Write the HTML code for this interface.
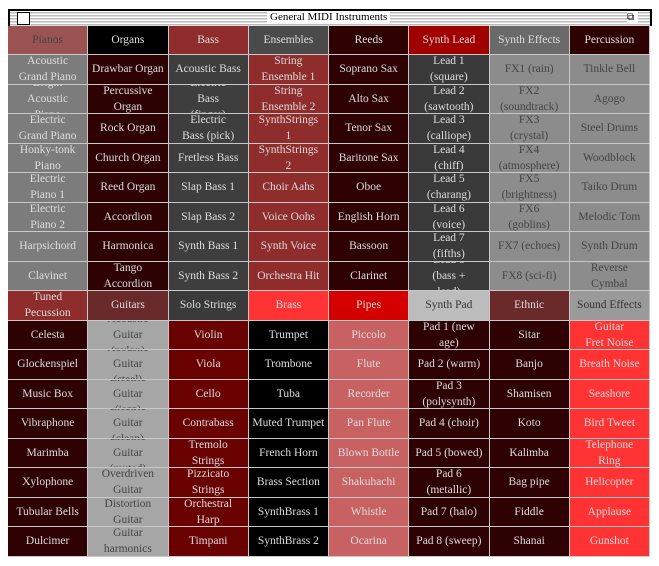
<!DOCTYPE html>
<html><head><meta charset="utf-8">
<style>
body{margin:0;width:659px;height:566px;background:#fff;position:relative;overflow:hidden;font-family:"Liberation Serif",serif;}
#titlebar{position:absolute;left:8px;top:9px;width:644px;height:17px;background:repeating-linear-gradient(#fff 0 1px,#bbb 1px 2px,#ddd 2px 3px);border-top:2px solid #000;border-left:2px solid #000;border-right:2px solid #000;box-sizing:border-box;}
#close{position:absolute;left:17px;top:12px;width:11px;height:11px;border:1px solid #000;background:#fff;}
#title{position:absolute;left:267px;top:11px;height:13px;padding:0 3px;background:#fff;font-size:11px;line-height:13px;color:#000;}
#zoom{position:absolute;left:627px;top:12px;width:11px;height:11px;background:#fff;font-size:10px;line-height:11px;}
.cell{position:absolute;box-sizing:border-box;border-right:1px solid #c8c8c8;border-bottom:1px solid #c8c8c8;display:flex;align-items:center;justify-content:center;text-align:center;font-size:11.5px;line-height:16px;overflow:hidden;padding:0 2px;white-space:pre;}
</style></head><body>
<div id="titlebar"></div>
<div id="close"></div>
<div id="title">General MIDI Instruments</div>
<div id="zoom">⧉</div>
<div id="grid"></div>
<script>
const headersTop=["Pianos","Organs","Bass","Ensembles","Reeds","Synth Lead","Synth Effects","Percussion"];
const headersBot=["Tuned\nPecussion","Guitars","Solo Strings","Brass","Pipes","Synth Pad","Ethnic","Sound Effects"];
const top8=[
["Acoustic\nGrand Piano","Bright\nAcoustic\nPiano","Electric\nGrand Piano","Honky-tonk\nPiano","Electric\nPiano 1","Electric\nPiano 2","Harpsichord","Clavinet"],
["Drawbar Organ","Percussive\nOrgan","Rock Organ","Church Organ","Reed Organ","Accordion","Harmonica","Tango\nAccordion"],
["Acoustic Bass","Electric\nBass\n(finger)","Electric\nBass (pick)","Fretless Bass","Slap Bass 1","Slap Bass 2","Synth Bass 1","Synth Bass 2"],
["String\nEnsemble 1","String\nEnsemble 2","SynthStrings\n1","SynthStrings\n2","Choir Aahs","Voice Oohs","Synth Voice","Orchestra Hit"],
["Soprano Sax","Alto Sax","Tenor Sax","Baritone Sax","Oboe","English Horn","Bassoon","Clarinet"],
["Lead 1\n(square)","Lead 2\n(sawtooth)","Lead 3\n(calliope)","Lead 4\n(chiff)","Lead 5\n(charang)","Lead 6\n(voice)","Lead 7\n(fifths)","Lead 8\n(bass +\nlead)"],
["FX1 (rain)","FX2\n(soundtrack)","FX3\n(crystal)","FX4\n(atmosphere)","FX5\n(brightness)","FX6\n(goblins)","FX7 (echoes)","FX8 (sci-fi)"],
["Tinkle Bell","Agogo","Steel Drums","Woodblock","Taiko Drum","Melodic Tom","Synth Drum","Reverse\nCymbal"]];
const bot8=[
["Celesta","Glockenspiel","Music Box","Vibraphone","Marimba","Xylophone","Tubular Bells","Dulcimer"],
["Acoustic\nGuitar\n(nylon)","Acoustic\nGuitar\n(steel)","Electric\nGuitar\n(jazz)","Electric\nGuitar\n(clean)","Electric\nGuitar\n(muted)","Overdriven\nGuitar","Distortion\nGuitar","Guitar\nharmonics"],
["Violin","Viola","Cello","Contrabass","Tremolo\nStrings","Pizzicato\nStrings","Orchestral\nHarp","Timpani"],
["Trumpet","Trombone","Tuba","Muted Trumpet","French Horn","Brass Section","SynthBrass 1","SynthBrass 2"],
["Piccolo","Flute","Recorder","Pan Flute","Blown Bottle","Shakuhachi","Whistle","Ocarina"],
["Pad 1 (new\nage)","Pad 2 (warm)","Pad 3\n(polysynth)","Pad 4 (choir)","Pad 5 (bowed)","Pad 6\n(metallic)","Pad 7 (halo)","Pad 8 (sweep)"],
["Sitar","Banjo","Shamisen","Koto","Kalimba","Bag pipe","Fiddle","Shanai"],
["Guitar\nFret Noise","Breath Noise","Seashore","Bird Tweet","Telephone\nRing","Helicopter","Applause","Gunshot"]];
const hTopBg=["#9a5252","#000000","#8f2c2c","#4a4a4a","#2e0202","#a00000","#6a6a6a","#2e0202"];
const hTopFg=["#444","#ddd","#ddd","#ddd","#ddd","#ddd","#ddd","#ddd"];
const bTopBg=["#7c7c7c","#2e0202","#3e3e3e","#8f2c2c","#2e0202","#3a3a3a","#8c8c8c","#8c8c8c"];
const bTopFg=["#ddd","#ddd","#ddd","#ddd","#ddd","#ddd","#444","#444"];
const hBotBg=["#8f2c2c","#6a2a2a","#3a3a3a","#ff3333","#d40000","#bcbcbc","#6a2a2a","#9a9a9a"];
const hBotFg=["#ddd","#ddd","#ddd","#ddd","#ddd","#333","#ddd","#333"];
const bBotBg=["#2e0202","#a6a6a6","#6a0202","#000000","#c86262","#2e0202","#2e0202","#ff3333"];
const bBotFg=["#ddd","#444","#ddd","#ddd","#ddd","#ddd","#ddd","#ddd"];
const X0=8,Y0=25.5,CW=80.25,RH=29.5;
const g=document.getElementById('grid');
function mk(c,r,txt,bg,fg,name){
  const d=document.createElement('div');
  d.className='cell';
  
  
  d.style.left=(X0+c*CW)+'px';d.style.top=(Y0+r*RH)+'px';
  d.style.width=CW+'px';d.style.height=RH+'px';
  d.style.background=bg;d.style.color=fg;
  d.textContent=txt;g.appendChild(d);
}
for(let c=0;c<8;c++){
  mk(c,0,headersTop[c],hTopBg[c],hTopFg[c],'category-header');
  for(let r=0;r<8;r++) mk(c,1+r,top8[c][r],bTopBg[c],bTopFg[c],'instrument-cell');
  mk(c,9,headersBot[c],hBotBg[c],hBotFg[c],'category-header');
  for(let r=0;r<8;r++) mk(c,10+r,bot8[c][r],bBotBg[c],bBotFg[c],'instrument-cell');
}
</script>
</body></html>
